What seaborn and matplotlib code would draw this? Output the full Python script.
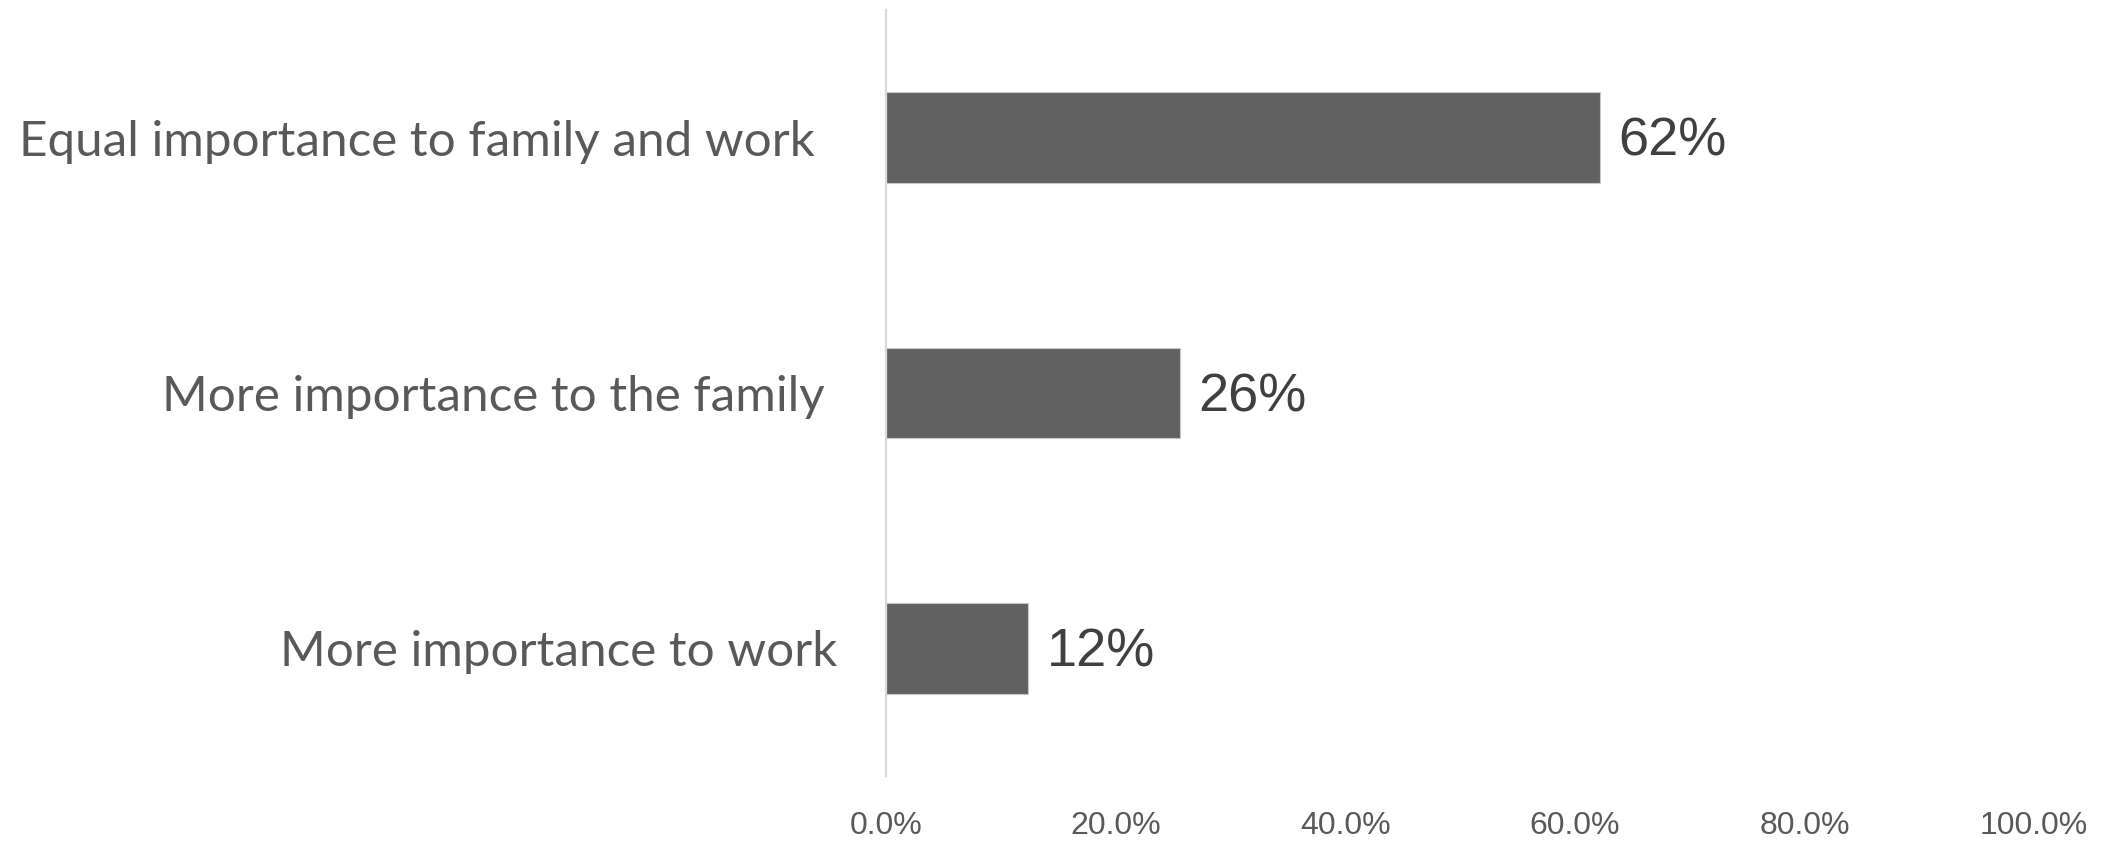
import matplotlib
matplotlib.use("Agg")
import matplotlib.pyplot as plt
import matplotlib.transforms as mtransforms
import seaborn as sns
import pandas as pd

categories = ["Equal importance to family and work",
              "More importance to the family",
              "More importance to work"]
values = [0.622, 0.256, 0.124]
xticks = [0.0, 0.2, 0.4, 0.6, 0.8, 1.0]

sns.set_theme(style="white")
plt.rcParams['font.family'] = ['Liberation Sans', 'DejaVu Sans']

df = pd.DataFrame({"category": categories, "value": values})

fig = plt.figure(figsize=(21.10, 8.41), dpi=100)
ax = fig.add_axes([886 / 2110, 1 - 776 / 841, (2034 - 886) / 2110, (776 - 10) / 841])

sns.barplot(data=df, x="value", y="category", orient="h", color="#616161",
            saturation=1, width=0.356, edgecolor="#c8c8c8", linewidth=0.8, ax=ax)

ax.set_xlim(0, 1)
ax.set_ylim(2.5, -0.5)
ax.set_xlabel("")
ax.set_ylabel("")

for s in ["top", "right", "bottom"]:
    ax.spines[s].set_visible(False)
ax.spines["left"].set_color("#d9d9d9")
ax.spines["left"].set_linewidth(1.6)

ax.set_xticks(xticks)
ax.set_xticklabels([f"{t*100:.1f}%" for t in xticks], fontsize=23, color="#595959")
ax.tick_params(axis="x", length=0, pad=25)
ax.tick_params(axis="y", length=0, pad=37)
ax.set_yticks(range(len(categories)))
ax.set_yticklabels(categories, fontsize=35.6, color="#595959", family=["Lato", "DejaVu Sans"])

offsets = [-20, -10, 3]
for lab, dx in zip(ax.get_yticklabels(), offsets):
    lab.set_transform(lab.get_transform() + mtransforms.ScaledTranslation(dx / 100, 0, fig.dpi_scale_trans))

for i, v in enumerate(values):
    t = ax.text(v + 0.016, i, f"{round(v*100)}%", va="center", ha="left",
                fontsize=39, color="#404040")
    t.set_transform(t.get_transform() + mtransforms.ScaledTranslation(0, -4 / 100, fig.dpi_scale_trans))

fig.savefig("out.png", dpi=100)
